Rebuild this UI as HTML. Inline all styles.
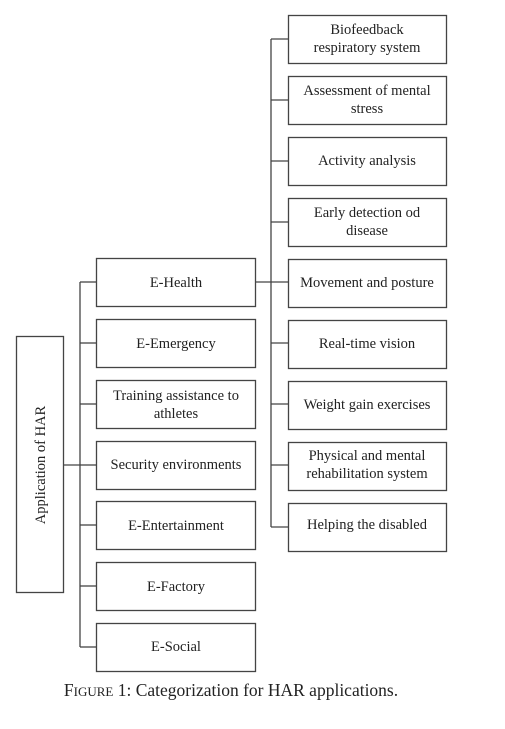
<!DOCTYPE html>
<html><head><meta charset="utf-8"><style>
html,body{margin:0;padding:0;background:#fff;}
svg text{font-family:"Liberation Serif",serif;font-size:14.5px;fill:#222;}
</style></head><body>
<svg width="505" height="724" xmlns="http://www.w3.org/2000/svg">
<g fill="none" stroke="#444" stroke-width="1.3">
<rect x="16.5" y="336.5" width="47" height="256"/>
<line x1="63" y1="465" x2="80" y2="465"/>
<line x1="80" y1="282" x2="80" y2="647"/>
<line x1="80" y1="282" x2="96" y2="282"/>
<line x1="80" y1="343" x2="96" y2="343"/>
<line x1="80" y1="404" x2="96" y2="404"/>
<line x1="80" y1="465" x2="96" y2="465"/>
<line x1="80" y1="525" x2="96" y2="525"/>
<line x1="80" y1="586" x2="96" y2="586"/>
<line x1="80" y1="647" x2="96" y2="647"/>
<rect x="96.5" y="258.5" width="159" height="48"/>
<rect x="96.5" y="319.5" width="159" height="48"/>
<rect x="96.5" y="380.5" width="159" height="48"/>
<rect x="96.5" y="441.5" width="159" height="48"/>
<rect x="96.5" y="501.5" width="159" height="48"/>
<rect x="96.5" y="562.5" width="159" height="48"/>
<rect x="96.5" y="623.5" width="159" height="48"/>
<line x1="255" y1="282" x2="288" y2="282"/>
<line x1="271" y1="39" x2="271" y2="527"/>
<line x1="271" y1="39" x2="288" y2="39"/>
<line x1="271" y1="100" x2="288" y2="100"/>
<line x1="271" y1="161" x2="288" y2="161"/>
<line x1="271" y1="222" x2="288" y2="222"/>
<line x1="271" y1="343" x2="288" y2="343"/>
<line x1="271" y1="404" x2="288" y2="404"/>
<line x1="271" y1="465" x2="288" y2="465"/>
<line x1="271" y1="527" x2="288" y2="527"/>
<rect x="288.5" y="15.5" width="158" height="48"/>
<rect x="288.5" y="76.5" width="158" height="48"/>
<rect x="288.5" y="137.5" width="158" height="48"/>
<rect x="288.5" y="198.5" width="158" height="48"/>
<rect x="288.5" y="259.5" width="158" height="48"/>
<rect x="288.5" y="320.5" width="158" height="48"/>
<rect x="288.5" y="381.5" width="158" height="48"/>
<rect x="288.5" y="442.5" width="158" height="48"/>
<rect x="288.5" y="503.5" width="158" height="48"/>
</g>
<g text-anchor="middle">
<text transform="translate(45,465) rotate(-90)">Application of HAR</text>
<text x="176" y="287">E-Health</text>
<text x="176" y="348">E-Emergency</text>
<text x="176" y="400">Training assistance to</text>
<text x="176" y="418">athletes</text>
<text x="176" y="469">Security environments</text>
<text x="176" y="530">E-Entertainment</text>
<text x="176" y="591">E-Factory</text>
<text x="176" y="651">E-Social</text>
<text x="367" y="34">Biofeedback</text>
<text x="367" y="52">respiratory system</text>
<text x="367" y="95">Assessment of mental</text>
<text x="367" y="113">stress</text>
<text x="367" y="165">Activity analysis</text>
<text x="367" y="217">Early detection od</text>
<text x="367" y="235">disease</text>
<text x="367" y="287">Movement and posture</text>
<text x="367" y="348">Real-time vision</text>
<text x="367" y="409">Weight gain exercises</text>
<text x="367" y="460">Physical and mental</text>
<text x="367" y="478">rehabilitation system</text>
<text x="367" y="529">Helping the disabled</text>
<text x="231" y="696" style="font-size:17.5px">F<tspan style="font-size:13px">IGURE</tspan> 1: Categorization for HAR applications.</text>
</g>
</svg>
</body></html>
